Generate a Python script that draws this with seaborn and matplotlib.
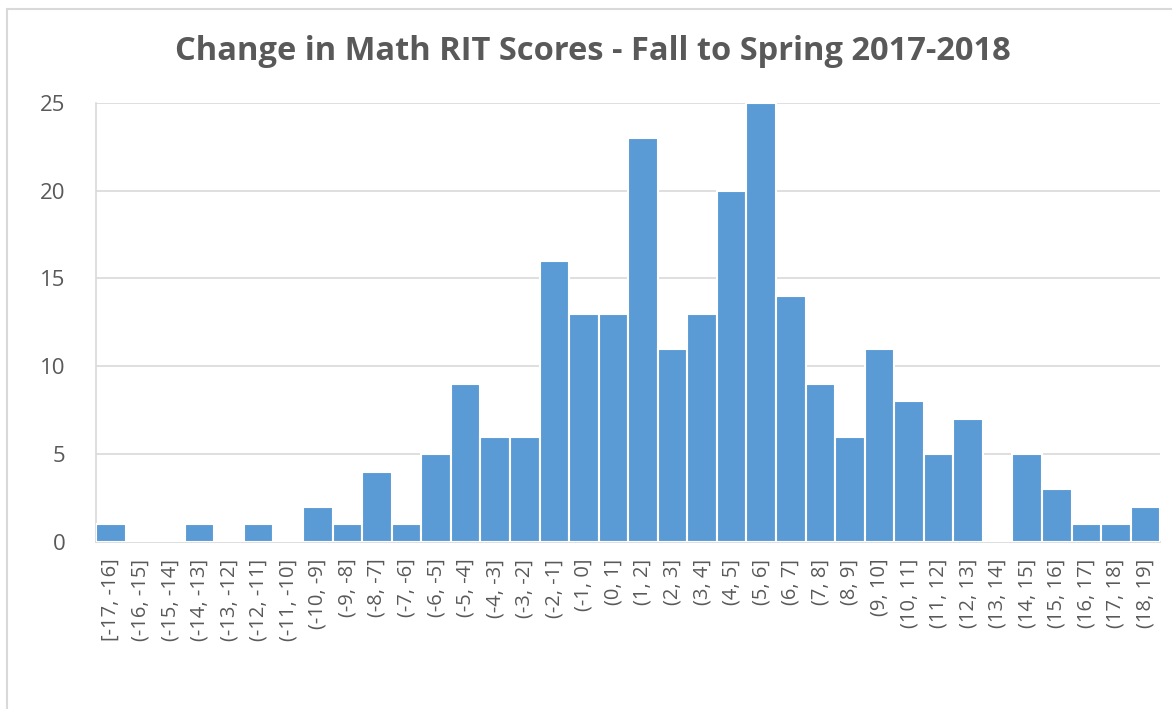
import seaborn as sns
import matplotlib.pyplot as plt
import pandas as pd
from matplotlib.lines import Line2D

bins = ['[-17, -16]', '(-16, -15]', '(-15, -14]', '(-14, -13]', '(-13, -12]',
        '(-12, -11]', '(-11, -10]', '(-10, -9]', '(-9, -8]', '(-8, -7]',
        '(-7, -6]', '(-6, -5]', '(-5, -4]', '(-4, -3]', '(-3, -2]',
        '(-2, -1]', '(-1, 0]', '(0, 1]', '(1, 2]', '(2, 3]', '(3, 4]',
        '(4, 5]', '(5, 6]', '(6, 7]', '(7, 8]', '(8, 9]', '(9, 10]',
        '(10, 11]', '(11, 12]', '(12, 13]', '(13, 14]', '(14, 15]',
        '(15, 16]', '(16, 17]', '(17, 18]', '(18, 19]']
counts = [1, 0, 0, 1, 0, 1, 0, 2, 1, 4, 1, 5, 9, 6, 6, 16, 13, 13, 23, 11,
          13, 20, 25, 14, 9, 6, 11, 8, 5, 7, 0, 5, 3, 1, 1, 2]
yticks = [0, 5, 10, 15, 20, 25]

df = pd.DataFrame({'bin': bins, 'count': counts})

sns.set_style("white")
plt.rcParams['font.family'] = ['Open Sans', 'DejaVu Sans']

fig = plt.figure(figsize=(11.72, 7.09), dpi=100)
ax = fig.add_axes([0.082, 0.2355, 0.908, 0.6195])

sns.barplot(x='bin', y='count', data=df, color='#5b9bd5', saturation=1.0,
            width=1.0, edgecolor='white', linewidth=1.5, ax=ax, zorder=3)

ax.set_ylim(0, 25)
ax.set_xlim(-0.5, len(bins) - 0.5)
ax.set_yticks(yticks)
ax.yaxis.grid(True, color='#d9d9d9', linewidth=1.2, zorder=0)
ax.set_axisbelow(True)
for s in ['top', 'right']:
    ax.spines[s].set_visible(False)
for s in ['left', 'bottom']:
    ax.spines[s].set_color('#d9d9d9')
    ax.spines[s].set_linewidth(1.2)
ax.tick_params(axis='y', labelsize=16, colors='#595959', length=0, pad=22)
ax.tick_params(axis='x', labelsize=14.5, colors='#595959', length=0, pad=12,
               labelrotation=90)
ax.set_xlabel('')
ax.set_ylabel('')

fig.text(0.506, 0.928, 'Change in Math RIT Scores - Fall to Spring 2017-2018',
         ha='center', va='center', fontsize=23.5, fontweight='bold',
         color='#595959')

# chart frame (only top and left edges show in the crop)
fig.lines.append(Line2D([0.006, 1.0], [0.987, 0.987], transform=fig.transFigure,
                        color='#d9d9d9', linewidth=1.5))
fig.lines.append(Line2D([0.006, 0.006], [0.0, 0.987], transform=fig.transFigure,
                        color='#d9d9d9', linewidth=1.5))

plt.savefig('out.png', dpi=100)
